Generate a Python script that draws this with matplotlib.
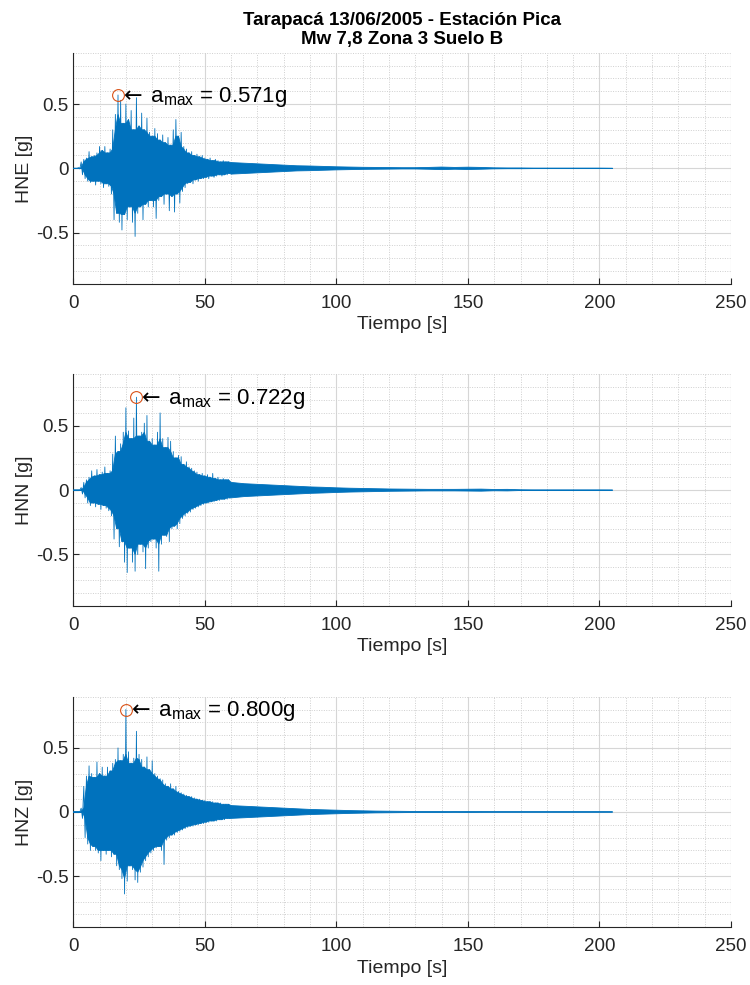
import numpy as np
import matplotlib
matplotlib.use("Agg")
import matplotlib.pyplot as plt
from matplotlib.ticker import MultipleLocator, FormatStrFormatter

plt.rcParams['font.family'] = ['Liberation Sans', 'DejaVu Sans']
plt.rcParams['mathtext.fontset'] = 'dejavusans'
plt.rcParams['axes.unicode_minus'] = False

# ---------------- data ----------------
title_lines = ["Tarapacá 13/06/2005 - Estación Pica", "Mw 7,8 Zona 3 Suelo B"]
components = ["HNE", "HNN", "HNZ"]

# strong-motion part: positive peaks at t = 0,1,...,59 s and negative peaks at t = 0.5,...,59.5 s
sec = np.arange(60)

hne_pos = [0, 0, 0.005, 0.05, 0.07, 0.08, 0.13, 0.09, 0.10, 0.12,
           0.17, 0.14, 0.17, 0.12, 0.15, 0.30, 0.42, 0.571, 0.53, 0.35,
           0.50, 0.38, 0.45, 0.30, 0.55, 0.33, 0.43, 0.30, 0.39, 0.28,
           0.25, 0.31, 0.27, 0.22, 0.26, 0.20, 0.24, 0.18, 0.30, 0.38,
           0.25, 0.28, 0.17, 0.15, 0.12, 0.13, 0.10, 0.11, 0.09, 0.10,
           0.08, 0.07, 0.08, 0.06, 0.07, 0.06, 0.05, 0.06, 0.05, 0.05]
hne_neg = [0, 0, -0.005, -0.05, -0.08, -0.10, -0.11, -0.10, -0.13, -0.10,
           -0.12, -0.15, -0.12, -0.14, -0.20, -0.40, -0.35, -0.42, -0.48, -0.36,
           -0.40, -0.30, -0.42, -0.53, -0.35, -0.30, -0.40, -0.28, -0.30, -0.25,
           -0.30, -0.39, -0.25, -0.22, -0.28, -0.20, -0.33, -0.22, -0.34, -0.20,
           -0.27, -0.18, -0.15, -0.12, -0.11, -0.12, -0.09, -0.10, -0.08, -0.08,
           -0.07, -0.08, -0.06, -0.07, -0.06, -0.05, -0.06, -0.05, -0.05, -0.04]

hnn_pos = [0, 0, 0, 0.02, 0.06, 0.08, 0.10, 0.15, 0.11, 0.16,
           0.12, 0.14, 0.18, 0.13, 0.15, 0.28, 0.42, 0.30, 0.36, 0.45,
           0.64, 0.46, 0.40, 0.56, 0.722, 0.42, 0.45, 0.52, 0.58, 0.38,
           0.40, 0.35, 0.45, 0.60, 0.40, 0.33, 0.41, 0.38, 0.30, 0.25,
           0.27, 0.26, 0.20, 0.22, 0.18, 0.17, 0.15, 0.14, 0.12, 0.13,
           0.11, 0.12, 0.10, 0.13, 0.09, 0.10, 0.08, 0.09, 0.08, 0.08]
hnn_neg = [0, 0, 0, -0.03, -0.06, -0.10, -0.12, -0.10, -0.13, -0.11,
           -0.15, -0.12, -0.14, -0.16, -0.20, -0.38, -0.30, -0.44, -0.40, -0.56,
           -0.64, -0.45, -0.56, -0.63, -0.50, -0.42, -0.48, -0.61, -0.45, -0.40,
           -0.38, -0.45, -0.63, -0.42, -0.35, -0.36, -0.40, -0.30, -0.28, -0.30,
           -0.26, -0.22, -0.20, -0.18, -0.17, -0.15, -0.14, -0.13, -0.12, -0.11,
           -0.10, -0.10, -0.09, -0.09, -0.08, -0.08, -0.07, -0.07, -0.07, -0.06]

hnz_pos = [0, 0, 0, 0.03, 0.20, 0.28, 0.36, 0.30, 0.27, 0.39,
           0.30, 0.35, 0.28, 0.35, 0.32, 0.38, 0.41, 0.50, 0.40, 0.45,
           0.80, 0.47, 0.38, 0.42, 0.63, 0.45, 0.41, 0.35, 0.43, 0.33,
           0.40, 0.30, 0.28, 0.26, 0.25, 0.22, 0.20, 0.22, 0.18, 0.20,
           0.16, 0.15, 0.14, 0.13, 0.12, 0.12, 0.11, 0.10, 0.10, 0.09,
           0.09, 0.08, 0.08, 0.08, 0.07, 0.07, 0.07, 0.06, 0.06, 0.06]
hnz_neg = [0, 0, 0, -0.05, -0.20, -0.25, -0.30, -0.27, -0.30, -0.32,
           -0.38, -0.30, -0.33, -0.30, -0.35, -0.33, -0.42, -0.45, -0.52, -0.64,
           -0.54, -0.42, -0.45, -0.53, -0.55, -0.47, -0.43, -0.38, -0.35, -0.32,
           -0.30, -0.28, -0.27, -0.30, -0.41, -0.22, -0.20, -0.18, -0.18, -0.16,
           -0.15, -0.14, -0.13, -0.12, -0.11, -0.11, -0.10, -0.10, -0.09, -0.09,
           -0.08, -0.08, -0.07, -0.07, -0.07, -0.06, -0.06, -0.06, -0.05, -0.05]

# coda: amplitude envelope at t = 60, 65, ..., 205 s
t_tail = np.arange(60, 206, 5)
hne_tail = [0.045, 0.04, 0.035, 0.03, 0.025, 0.02, 0.018, 0.015, 0.012, 0.010,
            0.008, 0.007, 0.006, 0.005, 0.005, 0.007, 0.010, 0.007, 0.009, 0.007,
            0.004, 0.003, 0.003, 0.002, 0.002, 0.002, 0.002, 0.002, 0.002, 0.001]
hnn_tail = [0.06, 0.05, 0.045, 0.04, 0.035, 0.03, 0.025, 0.022, 0.018, 0.015,
            0.013, 0.011, 0.009, 0.008, 0.007, 0.006, 0.006, 0.006, 0.007, 0.008,
            0.005, 0.006, 0.003, 0.002, 0.002, 0.002, 0.002, 0.002, 0.002, 0.001]
hnz_tail = [0.05, 0.045, 0.04, 0.035, 0.03, 0.025, 0.02, 0.017, 0.014, 0.011,
            0.009, 0.007, 0.006, 0.005, 0.004, 0.004, 0.004, 0.003, 0.004, 0.003,
            0.002, 0.002, 0.002, 0.002, 0.002, 0.002, 0.002, 0.002, 0.002, 0.001]

series = [(hne_pos, hne_neg, hne_tail), (hnn_pos, hnn_neg, hnn_tail), (hnz_pos, hnz_neg, hnz_tail)]

xticks = [0, 50, 100, 150, 200, 250]
yticks = [-0.5, 0, 0.5]

# ---------------- style ----------------
BLUE = '#0072BD'
ORANGE = '#D95319'
AX = '#262626'

fig = plt.figure(figsize=(7.5, 9.85), dpi=100)
left, width = 0.0977, 0.877
bottoms = [0.7117, 0.3848, 0.0586]
heights = [0.2348, 0.2352, 0.2341]


def core(v, fn):
    """Dense body of the trace: the smaller of each peak and its neighbours."""
    p = np.r_[v[0], v, v[-1]]
    return fn(fn(p[:-2], p[1:-1]), p[2:])


for i, (name, (pos, neg, tail)) in enumerate(zip(components, series)):
    ax = fig.add_axes([left, bottoms[i], width, heights[i]])
    pos = np.asarray(pos)
    neg = np.asarray(neg)
    tail = np.asarray(tail)
    t = np.empty(2 * len(sec))
    y = np.empty(2 * len(sec))
    t[0::2] = sec
    t[1::2] = sec + 0.5
    y[0::2] = pos
    y[1::2] = neg

    # solid body of the record + coda as one polygon
    up = core(pos, np.minimum)
    lo = core(neg, np.maximum)
    px = np.r_[sec, t_tail, t_tail[::-1], (sec + 0.5)[::-1]]
    py = np.r_[up, tail, -tail[::-1], lo[::-1]]
    ax.fill(px, py, color=BLUE, lw=0.6, ec=BLUE, zorder=3)
    # individual oscillations (peaks)
    ax.plot(t, y, color=BLUE, lw=0.6, zorder=3)
    ax.plot([0, sec[3]], [0, 0], color=BLUE, lw=0.6, zorder=3)

    k = int(np.argmax(np.abs(y)))
    tmax, amax = t[k], y[k]
    ax.plot([tmax], [amax], 'o', mfc='none', mec=ORANGE, ms=8.5, mew=0.8, zorder=4)
    ax.annotate(r'$\leftarrow$' + '\u2009' + r'a$_{\mathregular{max}}$ = %.3fg' % abs(amax),
                xy=(tmax, amax), xytext=(0.5, -5), textcoords='offset points',
                ha='left', va='baseline', fontsize=16, color='black', zorder=5)

    ax.set_xlim(0, 250)
    ax.set_ylim(-0.9, 0.9)
    ax.set_xticks(xticks)
    ax.set_yticks(yticks)
    ax.yaxis.set_major_formatter(FormatStrFormatter('%g'))
    ax.xaxis.set_minor_locator(MultipleLocator(10))
    ax.yaxis.set_minor_locator(MultipleLocator(0.1))
    ax.set_axisbelow(True)
    ax.grid(which='major', color='#d6d6d6', lw=0.8, ls='-')
    ax.grid(which='minor', color='#cfcfcf', lw=0.7, ls=(0, (1, 1.5)))
    for s in ['top', 'right']:
        ax.spines[s].set_visible(False)
    for s in ['left', 'bottom']:
        ax.spines[s].set_color(AX)
        ax.spines[s].set_linewidth(0.8)
    ax.tick_params(which='major', direction='in', length=4.5, width=0.8,
                   color=AX, labelcolor=AX, labelsize=13.5)
    ax.tick_params(axis='x', which='major', pad=8)
    ax.tick_params(axis='y', which='major', pad=3.5)
    ax.tick_params(which='minor', length=0)
    ax.set_xlabel('Tiempo [s]', fontsize=14, color=AX, labelpad=3)
    ax.set_ylabel(f'{name} [g]', fontsize=14, color=AX, labelpad=2)
    if i == 0:
        ax.set_title("\n".join(title_lines), fontsize=13.5, fontweight='bold',
                     color='black', pad=6, linespacing=1.2)

fig.savefig('out.png', dpi=100)
